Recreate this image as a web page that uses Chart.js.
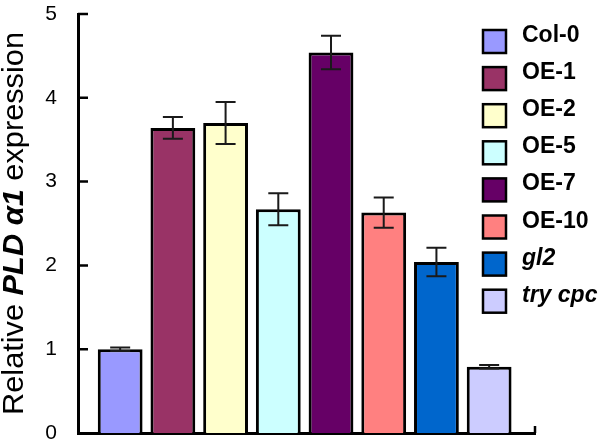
<!DOCTYPE html>
<html lang="en">
<head>
    <meta charset="UTF-8">
    <title>Relative PLD alpha1 expression</title>
    <script src="https://cdn.jsdelivr.net/npm/chart.js"></script>
    <style>
        body {
            margin: 0;
            background-color: #fff;
        }
        #chart {
            display: block;
        }
    </style>
</head>
<body>
    <canvas id="chart" width="600" height="447"></canvas>

    <script>
        // values
        const labels = ['Col-0', 'OE-1', 'OE-2', 'OE-5', 'OE-7', 'OE-10', 'gl2', 'try cpc'];
        const means = [1.00, 3.64, 3.70, 2.67, 4.54, 2.63, 2.04, 0.79];
        const errors = [0.02, 0.13, 0.25, 0.19, 0.20, 0.18, 0.17, 0.02];
        const colors = ['#9999ff', '#993366', '#ffffcc', '#ccffff', '#660066', '#ff8080', '#0066cc', '#ccccff'];
        const italicLabels = ['gl2', 'try cpc'];
        const yTicks = [0, 1, 2, 3, 4, 5];

        const sans = "'Liberation Sans', Arial, sans-serif";

        // error bars on top of the bars
        const errorBars = {
            id: 'errorBars',
            afterDatasetsDraw(chart) {
                const ctx = chart.ctx;
                const y = chart.scales.y;
                ctx.save();
                ctx.strokeStyle = '#1a1a1a';
                ctx.lineWidth = 2;
                chart.data.datasets.forEach((ds, i) => {
                    const bar = chart.getDatasetMeta(i).data[0];
                    const hi = y.getPixelForValue(means[i] + errors[i]);
                    const lo = y.getPixelForValue(means[i] - errors[i]);
                    ctx.beginPath();
                    ctx.moveTo(bar.x, hi);
                    ctx.lineTo(bar.x, lo);
                    ctx.moveTo(bar.x - 10, hi);
                    ctx.lineTo(bar.x + 10, hi);
                    ctx.moveTo(bar.x - 10, lo);
                    ctx.lineTo(bar.x + 10, lo);
                    ctx.stroke();
                });
                ctx.restore();
            }
        };

        // inward tick marks, y title with mixed styles, legend
        const decorations = {
            id: 'decorations',
            afterDraw(chart) {
                const ctx = chart.ctx;
                const area = chart.chartArea;
                const y = chart.scales.y;
                const x = chart.scales.x;
                ctx.save();

                ctx.strokeStyle = '#000';
                ctx.lineWidth = 2.5;
                ctx.beginPath();
                yTicks.slice(1).forEach(v => {
                    const py = y.getPixelForValue(v);
                    ctx.moveTo(area.left, py);
                    ctx.lineTo(area.left + 10, py);
                });
                ctx.moveTo(x.right, area.bottom);
                ctx.lineTo(x.right, area.bottom - 7);
                ctx.stroke();

                // y axis title, squeezed along its length like the original
                const runs = [
                    { text: 'Relative ', font: '29px ' + sans },
                    { text: 'PLD ', font: 'italic bold 29px ' + sans },
                    { text: '\u03b11', font: 'italic bold 29px ' + sans },
                    { text: ' expression', font: '29px ' + sans }
                ];
                let total = 0;
                runs.forEach(r => { ctx.font = r.font; r.w = ctx.measureText(r.text).width; total += r.w; });
                const squeeze = 383 / total;
                ctx.translate(23, (area.top + area.bottom) / 2);
                ctx.rotate(-Math.PI / 2);
                ctx.scale(squeeze, 1);
                ctx.fillStyle = '#000';
                ctx.textBaseline = 'alphabetic';
                let cx = -total / 2;
                runs.forEach(r => { ctx.font = r.font; ctx.fillText(r.text, cx, 0); cx += r.w; });
                ctx.setTransform(1, 0, 0, 1, 0, 0);

                // legend
                ctx.lineWidth = 2.5;
                ctx.textBaseline = 'alphabetic';
                labels.forEach((lab, i) => {
                    const top = 30 + i * 37.1;
                    ctx.fillStyle = colors[i];
                    ctx.fillRect(483, top, 23, 23);
                    ctx.strokeRect(483, top, 23, 23);
                    ctx.fillStyle = '#000';
                    ctx.font = (italicLabels.includes(lab) ? 'italic ' : '') + 'bold 23px ' + sans;
                    ctx.fillText(lab, 522, top + 12);
                });
                ctx.restore();
            }
        };

        const ctx = document.getElementById('chart').getContext('2d');
        new Chart(ctx, {
            type: 'bar',
            data: {
                datasets: labels.map((lab, i) => ({
                    label: lab,
                    data: [{ x: i, y: means[i] }],
                    backgroundColor: colors[i],
                    borderColor: '#000',
                    borderWidth: 3,
                    grouped: false,
                    barPercentage: 0.85,
                    categoryPercentage: 1
                }))
            },
            options: {
                responsive: false,
                animation: false,
                layout: { padding: { top: 14, right: 65, bottom: 14, left: 0 } },
                plugins: {
                    legend: { display: false },
                    tooltip: { enabled: false }
                },
                scales: {
                    x: {
                        type: 'linear',
                        offset: false,
                        min: -0.8,
                        max: 7.87,
                        afterBuildTicks(scale) {
                            scale.ticks = labels.map((l, i) => ({ value: i }));
                        },
                        afterFit(scale) {
                            scale.height = 0;
                            scale.paddingLeft = 0;
                            scale.paddingRight = 0;
                        },
                        grid: { display: false, drawTicks: false },
                        ticks: { display: false },
                        border: { display: true, color: '#000', width: 3 }
                    },
                    y: {
                        min: 0,
                        max: 5,
                        afterBuildTicks(scale) {
                            scale.ticks = yTicks.map(v => ({ value: v }));
                        },
                        afterFit(scale) {
                            scale.width = 78;
                            scale.paddingTop = 0;
                            scale.paddingBottom = 0;
                        },
                        grid: { display: false, drawTicks: false },
                        border: { display: true, color: '#000', width: 3 },
                        ticks: {
                            padding: 21,
                            color: '#000',
                            font: { family: sans, size: 21 }
                        }
                    }
                }
            },
            plugins: [errorBars, decorations]
        });
    </script>
</body>
</html>
